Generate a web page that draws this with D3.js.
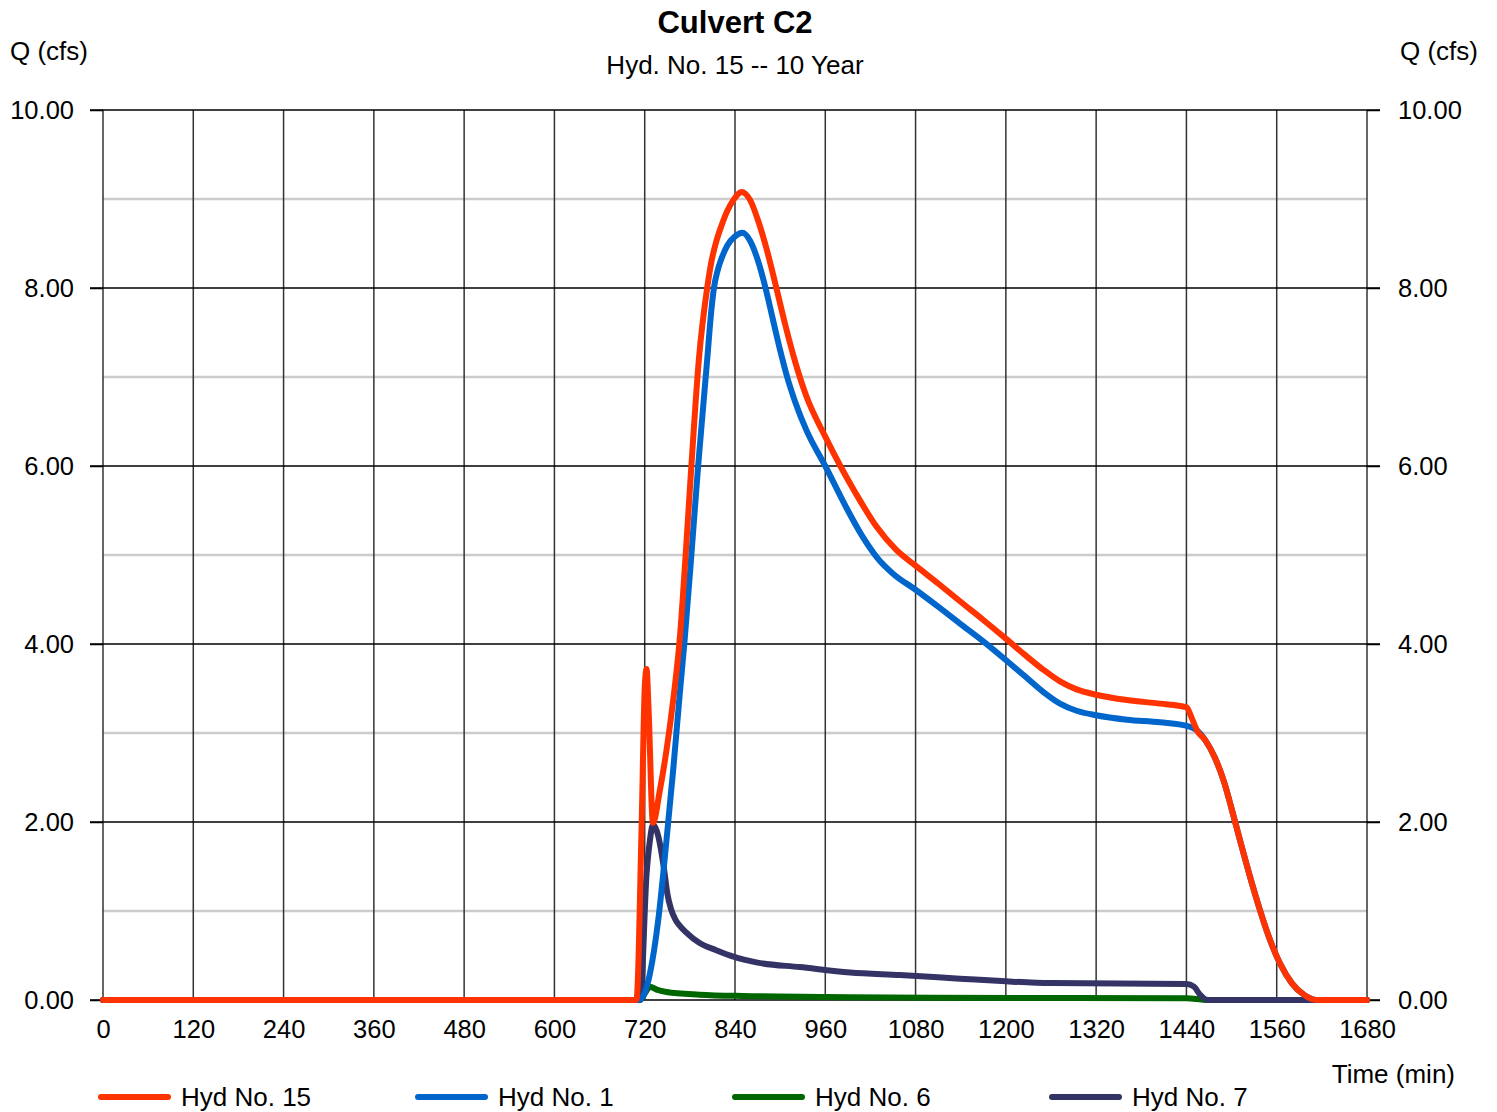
<!DOCTYPE html>
<html lang="en">
<head>
<meta charset="UTF-8">
<title>Culvert C2</title>
<script src="https://d3js.org/d3.v7.min.js"></script>
<style>
    body { margin: 0; background: #fff; }
    svg { display: block; font-family: "Liberation Sans", Arial, sans-serif; }
    .axis path, .axis line { stroke: #000; stroke-width: 1.5px; }
    .axis text { font-size: 25.5px; fill: #000; }
    .xaxis path, .xaxis line { stroke: none; }
</style>
</head>
<body>
<svg></svg>
<script>
// tick values for the two axes
var yMajor = [0, 2, 4, 6, 8, 10];
var yMinor = [1, 3, 5, 7, 9];
var xTicks = [0, 120, 240, 360, 480, 600, 720, 840, 960, 1080, 1200, 1320, 1440, 1560, 1680];

// series (time in min, Q in cfs)
var hyd15Time = [0, 709, 716, 720, 722.5, 725, 731, 740, 749, 758, 767, 774, 782, 792, 803, 809, 815, 822, 830, 838, 849, 860, 871, 879, 886, 895, 907, 920, 935, 960, 980, 1000, 1028, 1054, 1080, 1110, 1139, 1170, 1200, 1225, 1250, 1272, 1294, 1320, 1361, 1405, 1440, 1447, 1454, 1465, 1478, 1490, 1500, 1512, 1524, 1537, 1550, 1565, 1580, 1596, 1613, 1680];
var hyd15Q    = [0, 0,   2.0, 3.5, 3.72,  3.3, 1.99, 2.35, 2.81, 3.38, 4.1, 4.95, 6.0, 7.2, 8.0, 8.31, 8.52, 8.7, 8.87, 8.99, 9.08, 8.99, 8.75, 8.53, 8.31, 8.0, 7.58, 7.17, 6.78, 6.33, 6.0, 5.7, 5.32, 5.06, 4.88, 4.68, 4.48, 4.27, 4.06, 3.88, 3.71, 3.58, 3.49, 3.43, 3.37, 3.33, 3.29, 3.17, 3.03, 2.92, 2.72, 2.45, 2.15, 1.77, 1.40, 1.03, 0.70, 0.40, 0.19, 0.06, 0, 0];

var hyd1Time = [0, 712, 720, 727, 738, 749, 758, 767, 773, 782, 791, 803, 808, 812, 817, 822, 830, 840, 850, 860, 870, 880, 890, 900, 910, 920, 935, 960, 990, 1010, 1028, 1050, 1080, 1110, 1139, 1170, 1200, 1225, 1250, 1272, 1294, 1320, 1361, 1405, 1445, 1454, 1465, 1478, 1490, 1500, 1512, 1524, 1537, 1550, 1565, 1580, 1596, 1613, 1680];
var hyd1Q    = [0, 0,   0.08, 0.30, 0.9, 1.80, 2.6, 3.48, 4.04, 5.0, 6.0, 7.19, 7.7, 8.0, 8.2, 8.33, 8.48, 8.58, 8.62, 8.53, 8.32, 8.02, 7.66, 7.3, 6.98, 6.72, 6.4, 6.0, 5.5, 5.2, 4.98, 4.79, 4.61, 4.42, 4.23, 4.03, 3.82, 3.64, 3.46, 3.33, 3.25, 3.20, 3.15, 3.12, 3.07, 3.03, 2.92, 2.72, 2.45, 2.15, 1.77, 1.40, 1.03, 0.70, 0.40, 0.19, 0.06, 0, 0];

var hyd6Time = [0, 714, 722, 727, 735, 749, 793, 850, 960, 1100, 1440, 1460, 1467, 1680];
var hyd6Q    = [0, 0,   0.10, 0.15, 0.12, 0.09, 0.06, 0.045, 0.035, 0.025, 0.02, 0.005, 0, 0];

var hyd7Time = [0, 714, 722.5, 727, 731, 736, 741, 746, 750, 755, 761, 767, 775, 793, 815, 837, 870, 926, 993, 1059, 1139, 1200, 1260, 1440, 1450, 1458, 1468, 1680];
var hyd7Q    = [0, 0,   1.42, 1.80, 1.97, 1.9, 1.72, 1.45, 1.2, 1.02, 0.9, 0.83, 0.76, 0.64, 0.56, 0.49, 0.42, 0.37, 0.31, 0.28, 0.24, 0.21, 0.19, 0.18, 0.15, 0.06, 0, 0];

var seriesNames = ["Hyd No. 15", "Hyd No. 1", "Hyd No. 6", "Hyd No. 7"];
var seriesColors = ["#ff3300", "#0066cc", "#006600", "#333366"];

var W = 1497, H = 1112;
// plot box edges
var pLeft = 103, pRight = 1367, pTop = 110, pBottom = 1000;

var svg = d3.select("svg").attr("width", W).attr("height", H);
svg.append("rect").attr("width", W).attr("height", H).attr("fill", "#fff");

var x = d3.scaleLinear().domain([0, 1680]).range([pLeft, pRight]);
var y = d3.scaleLinear().domain([0, 10]).range([pBottom, pTop]);

// minor horizontal grid (grey)
svg.append("g").selectAll("line").data(yMinor).enter().append("line")
    .attr("x1", pLeft).attr("x2", pRight)
    .attr("y1", function (d) { return y(d); }).attr("y2", function (d) { return y(d); })
    .attr("stroke", "#cccccc").attr("stroke-width", 2.5);

// vertical grid
svg.append("g").selectAll("line").data(xTicks).enter().append("line")
    .attr("x1", function (d) { return x(d); }).attr("x2", function (d) { return x(d); })
    .attr("y1", pTop).attr("y2", pBottom)
    .attr("stroke", "#333").attr("stroke-width", 1.5);

// major horizontal grid, running through the tick marks
svg.append("g").selectAll("line").data(yMajor).enter().append("line")
    .attr("x1", pLeft - 13).attr("x2", pRight + 13)
    .attr("y1", function (d) { return y(d); }).attr("y2", function (d) { return y(d); })
    .attr("stroke", "#000").attr("stroke-width", 1.5);

// axes
svg.append("g").attr("class", "axis")
    .attr("transform", "translate(" + pLeft + ",0)")
    .call(d3.axisLeft(y).tickValues(yMajor).tickSize(13).tickPadding(16).tickFormat(d3.format(".2f")))
    .call(function (g) { g.select(".domain").remove(); });

svg.append("g").attr("class", "axis")
    .attr("transform", "translate(" + pRight + ",0)")
    .call(d3.axisRight(y).tickValues(yMajor).tickSize(13).tickPadding(18).tickFormat(d3.format(".2f")))
    .call(function (g) { g.select(".domain").remove(); });

svg.append("g").attr("class", "axis xaxis")
    .attr("transform", "translate(0," + pBottom + ")")
    .call(d3.axisBottom(x).tickValues(xTicks).tickSize(0).tickPadding(20).tickFormat(d3.format("d")));

// lines
var line = d3.line()
    .x(function (d) { return x(d[0]); })
    .y(function (d) { return y(d[1]); })
    .curve(d3.curveMonotoneX);

var series = [
    d3.zip(hyd15Time, hyd15Q),
    d3.zip(hyd1Time, hyd1Q),
    d3.zip(hyd6Time, hyd6Q),
    d3.zip(hyd7Time, hyd7Q)
];
// draw order: green, purple, blue, red on top
[2, 3, 1, 0].forEach(function (i) {
    svg.append("path")
        .attr("d", line(series[i]))
        .attr("fill", "none")
        .attr("stroke", seriesColors[i])
        .attr("stroke-width", 6)
        .attr("stroke-linecap", "round")
        .attr("stroke-linejoin", "round");
});

// titles
svg.append("text").attr("x", 735).attr("y", 33).attr("text-anchor", "middle")
    .attr("font-size", 31).attr("font-weight", "bold").text("Culvert C2");
svg.append("text").attr("x", 735).attr("y", 74).attr("text-anchor", "middle")
    .attr("font-size", 26).text("Hyd. No. 15 -- 10 Year");
svg.append("text").attr("x", 10).attr("y", 60).attr("font-size", 26).text("Q (cfs)");
svg.append("text").attr("x", 1478).attr("y", 60).attr("text-anchor", "end").attr("font-size", 26).text("Q (cfs)");
svg.append("text").attr("x", 1455).attr("y", 1083).attr("text-anchor", "end").attr("font-size", 26).text("Time (min)");

// legend
var legend = svg.append("g").selectAll("g").data(seriesNames).enter().append("g")
    .attr("transform", function (d, i) { return "translate(" + (101 + i * 317) + ",1097)"; });
legend.append("line").attr("x1", 0).attr("x2", 67)
    .attr("stroke", function (d, i) { return seriesColors[i]; })
    .attr("stroke-width", 6).attr("stroke-linecap", "round");
legend.append("text").attr("x", 80).attr("y", 9).attr("font-size", 26)
    .text(function (d) { return d; });
</script>
</body>
</html>
